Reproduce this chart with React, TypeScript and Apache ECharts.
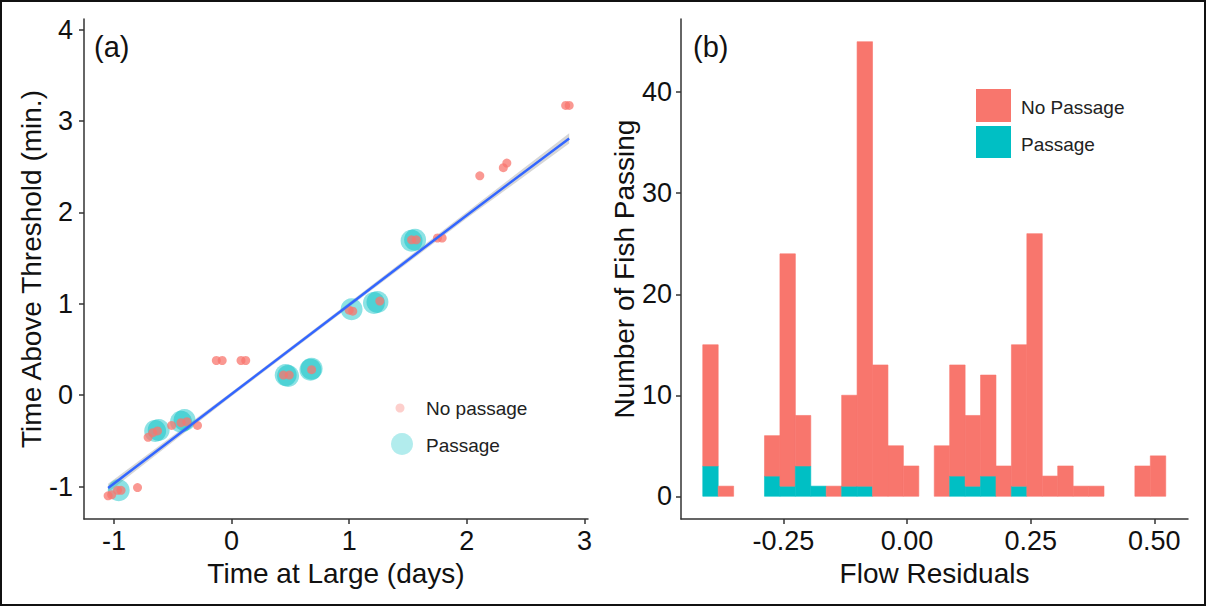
import React, { useEffect, useRef } from "react";
import * as echarts from "echarts";

// ---- Panel (a): scatter data ----
const noPassageX = [-1.05, -1.02, -0.97, -0.94, -0.8, -0.71, -0.67, -0.63, -0.51, -0.43, -0.38, -0.29, -0.13, -0.08, 0.08, 0.12, 0.44, 0.49, 0.68, 1.0, 1.03, 1.26, 1.53, 1.57, 1.75, 1.79, 2.11, 2.31, 2.34, 2.84, 2.87];
const noPassageY = [-1.1, -1.09, -1.04, -1.04, -1.01, -0.46, -0.41, -0.39, -0.33, -0.3, -0.29, -0.33, 0.38, 0.38, 0.38, 0.38, 0.22, 0.22, 0.28, 0.93, 0.92, 1.03, 1.7, 1.7, 1.72, 1.72, 2.4, 2.49, 2.54, 3.17, 3.17];
const passageX = [-0.96, -0.65, -0.62, -0.43, -0.4, 0.46, 0.48, 0.67, 0.68, 1.02, 1.21, 1.24, 1.53, 1.56];
const passageY = [-1.04, -0.39, -0.38, -0.29, -0.27, 0.22, 0.21, 0.28, 0.29, 0.94, 1.01, 1.02, 1.69, 1.7];
const fitX = [-1.05, 0.0, 1.0, 2.0, 2.87];
const fitY = [-1.014, 0.013, 0.99, 1.97, 2.81];
const ciLow = [-1.06, -0.01, 0.965, 1.935, 2.755];
const ciHigh = [-0.968, 0.036, 1.015, 2.005, 2.865];
const xTicksA = [-1, 0, 1, 2, 3];
const yTicksA = [-1, 0, 1, 2, 3, 4];

// ---- Panel (b): histogram data ----
const binStart = -0.413;
const binWidth = 0.0312;
const passageCounts = [3, 0, 0, 0, 2, 1, 3, 1, 0, 1, 1, 0, 0, 0, 0, 0, 2, 1, 2, 0, 1, 0, 0, 0, 0, 0, 0, 0, 0, 0];
const noPassageCounts = [12, 1, 0, 0, 4, 23, 5, 0, 1, 9, 44, 13, 5, 3, 0, 5, 11, 7, 10, 3, 14, 26, 2, 3, 1, 1, 0, 0, 3, 4];
const xTicksB = [-0.25, 0, 0.25, 0.5];
const yTicksB = [0, 10, 20, 30, 40];

const RED = "#F8766D";
const TEAL = "#00BFC4";
const FONT = "'Liberation Sans', Arial, sans-serif";
const AXIS_COLOR = "#333333";

export default function App() {
  const ref = useRef<HTMLDivElement>(null);
  useEffect(() => {
    document.body.style.margin = "0";
    const chart = echarts.init(ref.current!, null, { renderer: "svg" });

    const histRects: any[] = [];
    noPassageCounts.forEach((np, i) => {
      const p = passageCounts[i];
      const x0 = binStart + i * binWidth;
      const x1 = x0 + binWidth;
      if (p > 0) histRects.push([x0, x1, 0, p, 0]);
      if (np > 0) histRects.push([x0, x1, p, p + np, 1]);
    });

    const commonAxisLine = { show: true, onZero: false, lineStyle: { color: AXIS_COLOR, width: 1.5 } };
    const commonTick = { show: true, length: 5, inside: false, lineStyle: { color: AXIS_COLOR, width: 1.5 } };
    const labelStyle = { color: "#111", fontSize: 27, fontFamily: FONT };
    const nameStyle = { color: "#111", fontSize: 28, fontFamily: FONT };

    const option: any = {
      animation: false,
      backgroundColor: "#fff",
      grid: [
        { left: 84, top: 19, width: 504, height: 500 },
        { left: 681, top: 19, width: 507, height: 500 },
      ],
      xAxis: [
        {
          gridIndex: 0, type: "value", min: -1.255, max: 3.03,
          axisLine: commonAxisLine, axisTick: { ...commonTick, customValues: xTicksA },
          axisLabel: { ...labelStyle, margin: 8, customValues: xTicksA, formatter: (v: number) => String(v) },
          splitLine: { show: false },
          name: "Time at Large (days)", nameLocation: "middle", nameGap: 40, nameTextStyle: nameStyle,
        },
        {
          gridIndex: 1, type: "value", min: -0.457, max: 0.568,
          axisLine: commonAxisLine, axisTick: { ...commonTick, customValues: xTicksB },
          axisLabel: { ...labelStyle, margin: 8, customValues: xTicksB, formatter: (v: number) => v.toFixed(2) },
          splitLine: { show: false },
          name: "Flow Residuals", nameLocation: "middle", nameGap: 40, nameTextStyle: nameStyle,
        },
      ],
      yAxis: [
        {
          gridIndex: 0, type: "value", min: -1.354, max: 4.116,
          axisLine: commonAxisLine, axisTick: { ...commonTick, customValues: yTicksA },
          axisLabel: { ...labelStyle, margin: 11, customValues: yTicksA, formatter: (v: number) => String(v) },
          splitLine: { show: false },
          name: "Time Above Threshold (min.)", nameLocation: "middle", nameGap: 33, nameTextStyle: nameStyle,
        },
        {
          gridIndex: 1, type: "value", min: -2.25, max: 47.25,
          axisLine: commonAxisLine, axisTick: { ...commonTick, customValues: yTicksB },
          axisLabel: { ...labelStyle, margin: 9, customValues: yTicksB, formatter: (v: number) => String(v) },
          splitLine: { show: false },
          name: "Number of Fish Passing", nameLocation: "middle", nameGap: 37, nameTextStyle: nameStyle,
        },
      ],
      series: [
        {
          type: "custom", xAxisIndex: 0, yAxisIndex: 0, silent: true,
          data: [0],
          renderItem: (params: any, api: any) => {
            const pts: number[][] = [];
            fitX.forEach((x, i) => pts.push(api.coord([x, ciHigh[i]])));
            for (let i = fitX.length - 1; i >= 0; i--) pts.push(api.coord([fitX[i], ciLow[i]]));
            return { type: "polygon", shape: { points: pts }, style: { fill: "rgba(153,153,153,0.4)" } };
          },
          z: 1,
        },
        {
          name: "Passage", type: "scatter", xAxisIndex: 0, yAxisIndex: 0,
          data: passageX.map((x, i) => [x, passageY[i]]),
          symbolSize: 22,
          itemStyle: { color: TEAL, opacity: 0.45 },
          z: 2,
        },
        {
          name: "No passage", type: "scatter", xAxisIndex: 0, yAxisIndex: 0,
          data: noPassageX.map((x, i) => [x, noPassageY[i]]),
          symbolSize: 9,
          itemStyle: { color: RED, opacity: 0.75 },
          z: 3,
        },
        {
          type: "line", xAxisIndex: 0, yAxisIndex: 0,
          data: fitX.map((x, i) => [x, fitY[i]]),
          showSymbol: false, symbol: "none",
          lineStyle: { color: "#3366FF", width: 2.5 },
          z: 4,
        },
        {
          type: "custom", xAxisIndex: 1, yAxisIndex: 1,
          data: histRects,
          encode: { x: [0, 1], y: [2, 3] },
          renderItem: (params: any, api: any) => {
            const p0 = api.coord([api.value(0), api.value(3)]);
            const p1 = api.coord([api.value(1), api.value(2)]);
            const c = api.value(4) === 1 ? RED : TEAL;
            return {
              type: "rect",
              shape: { x: p0[0], y: p0[1], width: p1[0] - p0[0], height: p1[1] - p0[1] },
              style: { fill: c, stroke: c, lineWidth: 0.6 },
            };
          },
        },
      ],
      graphic: [
        { type: "rect", shape: { x: 1, y: 1, width: 1204, height: 604 }, style: { fill: "none", stroke: "#111", lineWidth: 2 }, silent: true },
        { type: "text", x: 94, y: 47, style: { text: "(a)", fontSize: 29, fontFamily: FONT, fill: "#111", verticalAlign: "middle" } },
        { type: "text", x: 693, y: 47, style: { text: "(b)", fontSize: 29, fontFamily: FONT, fill: "#111", verticalAlign: "middle" } },
        { type: "circle", shape: { cx: 400, cy: 408, r: 4.5 }, style: { fill: RED, opacity: 0.35 } },
        { type: "circle", shape: { cx: 402, cy: 444, r: 11 }, style: { fill: TEAL, opacity: 0.3 } },
        { type: "text", x: 426, y: 408, style: { text: "No passage", fontSize: 19, fontFamily: FONT, fill: "#222", verticalAlign: "middle" } },
        { type: "text", x: 426, y: 445, style: { text: "Passage", fontSize: 19, fontFamily: FONT, fill: "#222", verticalAlign: "middle" } },
        { type: "rect", shape: { x: 976, y: 89, width: 35, height: 33 }, style: { fill: RED } },
        { type: "rect", shape: { x: 976, y: 126, width: 35, height: 32 }, style: { fill: TEAL } },
        { type: "text", x: 1021, y: 107, style: { text: "No Passage", fontSize: 19, fontFamily: FONT, fill: "#222", verticalAlign: "middle" } },
        { type: "text", x: 1021, y: 144, style: { text: "Passage", fontSize: 19, fontFamily: FONT, fill: "#222", verticalAlign: "middle" } },
      ],
    };
    chart.setOption(option);
    return () => chart.dispose();
  }, []);
  return <div ref={ref} style={{ width: 1207, height: 607 }} />;
}
